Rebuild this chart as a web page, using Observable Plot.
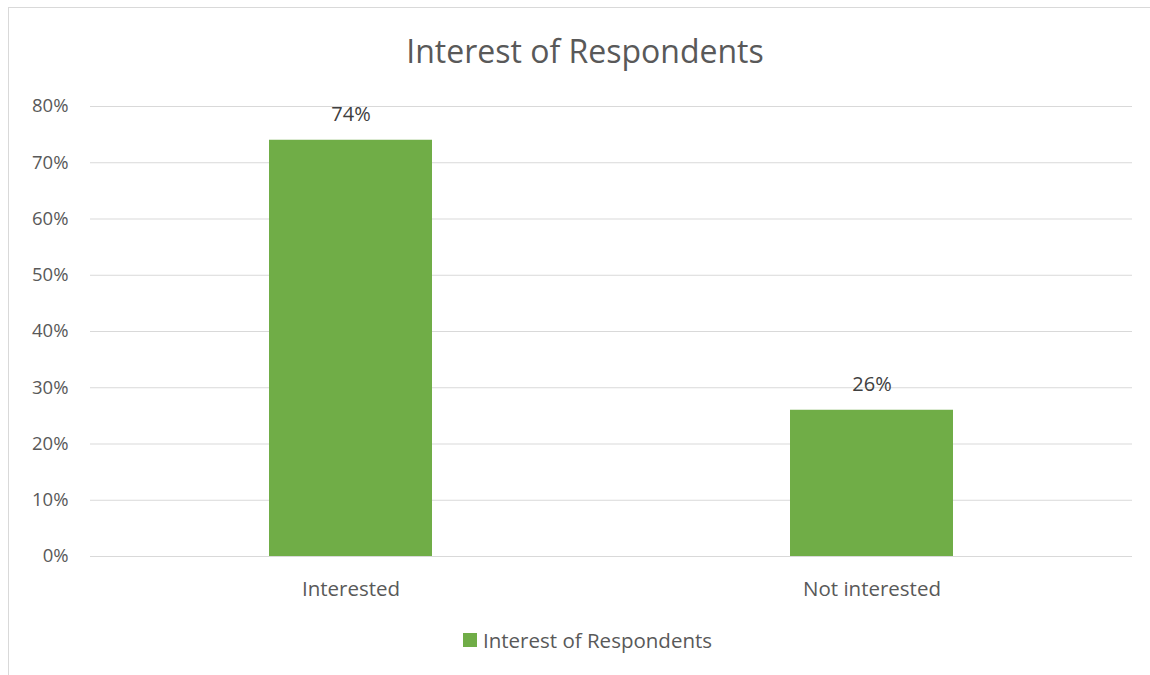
<!DOCTYPE html>
<html>
<head>
<meta charset="utf-8">
<script src="https://cdn.jsdelivr.net/npm/d3@7"></script>
<script src="https://cdn.jsdelivr.net/npm/@observablehq/plot@0.6"></script>
<style>
  html, body { margin: 0; padding: 0; background: #fff; overflow: hidden; }
  body { width: 1150px; height: 675px; position: relative; font-family: "Open Sans", sans-serif; color: #595959; }
  #frame { position: absolute; left: 8px; top: 7px; width: 1300px; height: 800px; border: 1px solid #d9d9d9; box-sizing: border-box; }
  #title { position: absolute; left: 0; width: 1170px; top: 29px; text-align: center; font-size: 32px; line-height: 44px; color: #595959; }
  #chart { position: absolute; left: 0; top: 0; }
  #legend { position: absolute; left: 463px; top: 625px; font-size: 20.5px; line-height: 30px; display: flex; align-items: center; color: #595959; }
  #legend .sw { width: 14px; height: 14px; background: #70ad47; margin-right: 6px; }
</style>
</head>
<body>
<div id="frame"></div>
<div id="chart"></div>
<div id="title">Interest of Respondents</div>
<div id="legend"><span class="sw"></span><span>Interest of Respondents</span></div>
<script>
const categories = ["Interested", "Not interested"];
const values = [0.74, 0.26];
const yTicks = [0, 0.1, 0.2, 0.3, 0.4, 0.5, 0.6, 0.7, 0.8];

const data = categories.map((c, i) => ({category: c, value: values[i]}));

const chart = Plot.plot({
  width: 1150,
  height: 675,
  marginLeft: 90,
  marginRight: 18,
  marginTop: 106,
  marginBottom: 119,
  style: {fontFamily: "Open Sans, sans-serif", fontSize: "18px", color: "#595959", background: "transparent"},
  x: {domain: categories, paddingInner: 0.687, paddingOuter: 0.3435, label: null},
  y: {domain: [0, 0.8], label: null},
  marks: [
    Plot.gridY(yTicks, {stroke: "#d9d9d9", strokeOpacity: 1, strokeWidth: 1}),
    Plot.barY(data, {x: "category", y: "value", fill: "#70ad47"}),
    Plot.text(data, {x: "category", y: "value", text: d => Math.round(d.value * 100) + "%", dy: -26, fill: "#404040", fontSize: 20}),
    Plot.axisY({ticks: yTicks, tickFormat: d => Math.round(d * 100) + "%", tickSize: 0, tickPadding: 22, fill: "#595959", fontSize: 18.5, label: null}),
    Plot.axisX({tickSize: 0, tickPadding: 25, fill: "#595959", fontSize: 20.5, label: null})
  ]
});
document.getElementById("chart").appendChild(chart);
</script>
</body>
</html>
